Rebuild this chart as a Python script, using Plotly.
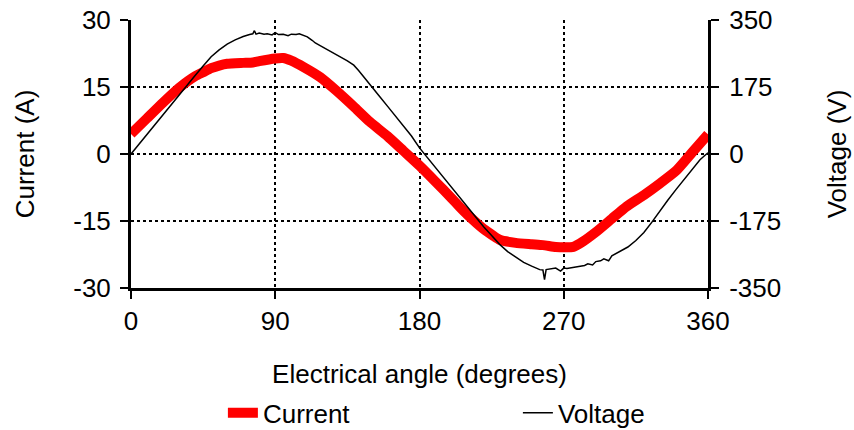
import plotly.graph_objects as go

# ---- data ----
current_deg = [0, 10, 20, 30, 40, 45, 50, 55, 60, 70, 76, 80, 90, 95, 100, 108, 118, 128, 139,
               149, 160, 170, 180, 190, 200, 205, 210, 220, 226, 230, 240, 250, 257, 265, 270,
               276, 282, 290, 300, 309, 320, 330, 340, 350, 360]
current_a = [4.5, 8.0, 11.5, 14.8, 17.4, 18.3, 19.2, 19.8, 20.2, 20.4, 20.5, 20.8, 21.4, 21.5, 20.9,
             19.4, 17.2, 14.2, 10.6, 7.2, 4.0, 0.7, -2.6, -6.2, -9.9, -11.8, -13.6, -16.8, -18.3,
             -19.2, -19.9, -20.2, -20.4, -20.8, -20.9, -20.8, -19.6, -17.5, -14.5, -11.8, -9.2,
             -6.6, -3.8, 0.3, 4.4]

voltage_deg = [0, 5, 10, 15, 20, 25, 30, 35, 40, 45, 50, 55, 60, 65, 70, 74, 76, 77, 78, 80, 83, 85,
               88, 90, 92, 95, 98, 100, 103, 105, 108, 110, 113, 115, 118, 120, 125, 130, 135, 139,
               142, 145, 150, 155, 160, 165, 170, 175, 180, 185, 190, 195, 200, 205, 210, 215, 220,
               225, 230, 235, 240, 245, 250, 255, 257, 258, 259, 262, 265, 268, 270, 272, 275, 278,
               280, 283, 285, 288, 290, 293, 295, 298, 300, 305, 310, 315, 318, 320, 325, 330, 335,
               340, 345, 350, 355, 358, 360]
voltage_v = [0, 26, 52, 78, 104, 130, 155, 180, 205, 230, 254, 272, 287, 298, 307, 312, 314, 322,
             313, 316, 313, 314, 311, 317, 312, 313, 309, 313, 312, 314, 310, 306, 297, 290, 283,
             278, 266, 255, 243, 232, 218, 203, 177, 151, 125, 99, 73, 47, 16, -10, -36, -62, -88,
             -114, -140, -165, -190, -213, -236, -255, -270, -283, -293, -302, -303, -328, -302,
             -300, -298, -306, -298, -299, -297, -296, -293, -291, -287, -290, -281, -279, -274,
             -279, -266, -255, -243, -226, -214, -205, -178, -148, -120, -93, -66, -40, -15, -4, 3]

x_ticks = [0, 90, 180, 270, 360]
x_tick_labels = ["0", "90", "180", "270", "360"]
y_ticks = [-30, -15, 0, 15, 30]
y_tick_labels = ["-30", "-15", "0", "15", "30"]
y2_ticks = [-350, -175, 0, 175, 350]
y2_tick_labels = ["-350", "-175", "0", "175", "350"]

FONT = "Arial, Liberation Sans, sans-serif"
FS = 26

fig = go.Figure()
fig.add_trace(go.Scatter(x=current_deg, y=current_a, name="Current", mode="lines",
                         legendwidth=250,
                         line=dict(color="#ff0000", width=10, shape="spline", smoothing=0.5)))
fig.add_trace(go.Scatter(x=voltage_deg, y=voltage_v, name="Voltage", mode="lines", yaxis="y2",
                         legendwidth=100,
                         line=dict(color="black", width=1.5)))

axis_common = dict(showline=True, linecolor="black", linewidth=3, ticks="outside", ticklen=8,
                   tickwidth=1.5, tickcolor="black", zeroline=False, automargin=False,
                   tickfont=dict(family=FONT, size=FS, color="black"))

fig.update_layout(
    width=854, height=430,
    margin=dict(l=131, r=146, t=20, b=142, autoexpand=False),
    paper_bgcolor="white", plot_bgcolor="white",
    font=dict(family=FONT, size=FS, color="black"),
    showlegend=True,
    legend=dict(orientation="h", xref="container", yref="container",
                x=0.261, xanchor="left", y=0.04, yanchor="middle",
                entrywidthmode="pixels", font=dict(family=FONT, size=FS),
                bgcolor="rgba(0,0,0,0)"),
    xaxis=dict(range=[0, 360], tickvals=x_ticks, ticktext=x_tick_labels, showgrid=True,
               griddash="dot", gridcolor="black", gridwidth=1.5, ticklabelstandoff=0,
               title=dict(text="Electrical angle (degrees)", standoff=37,
                          font=dict(family=FONT, size=FS)),
               **axis_common),
    yaxis=dict(range=[-30, 30], tickvals=y_ticks, ticktext=y_tick_labels, showgrid=True,
               griddash="dot", gridcolor="black", gridwidth=1.5, ticklabelstandoff=4,
               title=dict(text="Current (A)", standoff=32, font=dict(family=FONT, size=FS)),
               **axis_common),
    yaxis2=dict(range=[-350, 350], tickvals=y2_ticks, ticktext=y2_tick_labels, overlaying="y",
                side="right", showgrid=False, ticklabelstandoff=5,
                title=dict(text="Voltage (V)", standoff=48, font=dict(family=FONT, size=FS)),
                **axis_common),
)

fig.write_html("out.html")
